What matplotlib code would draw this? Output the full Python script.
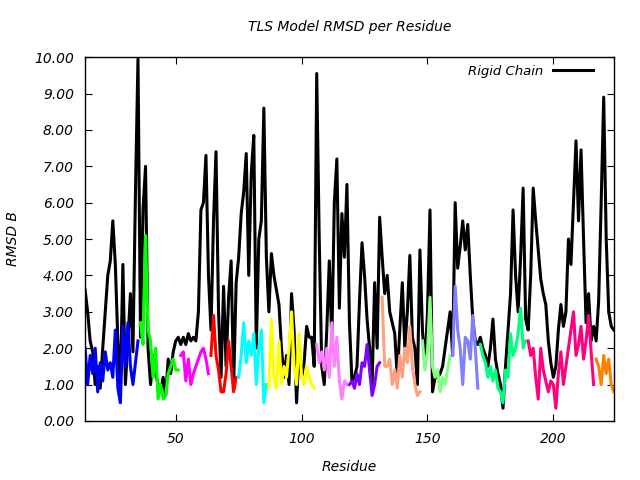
import matplotlib
matplotlib.use("Agg")
import matplotlib.pyplot as plt
import numpy as np

# rigid chain RMSD, residues 14..224
rigid_start = 14
rigid_rmsd = [
    3.6, 3.0, 2.2, 1.9, 1.0, 1.5, 0.9, 2.0, 3.0, 4.0,
    4.4, 5.5, 4.3, 2.2, 0.9, 4.3, 1.0, 2.2, 3.5, 1.9,
    6.3, 9.95, 2.3, 5.8, 7.0, 2.0, 1.0, 1.8, 1.3, 1.0,
    0.8, 1.2, 0.7, 1.7, 1.3, 1.9, 2.2, 2.3, 2.1, 2.3,
    2.1, 2.4, 2.2, 2.3, 2.2, 3.0, 5.8, 6.0, 7.3, 4.0,
    2.5, 5.5, 7.4, 3.0, 1.2, 3.7, 1.5, 3.4, 4.4, 1.0,
    3.8, 4.5, 5.7, 6.3, 7.35, 4.0, 6.8, 7.85, 2.0, 5.0,
    5.5, 8.6, 4.5, 3.0, 4.6, 4.0, 3.6, 3.2, 2.0, 1.2,
    1.8, 1.0, 3.5, 2.5, 0.5, 2.0, 1.2, 1.6, 2.6, 2.3,
    2.3, 1.5, 9.55, 5.0, 1.5, 1.0, 2.5, 4.4, 2.2, 6.0,
    7.2, 3.1, 5.7, 4.5, 6.5, 2.7, 1.1, 1.2, 1.5, 3.3,
    4.9, 4.0, 2.8, 2.0, 1.0, 3.8, 2.0, 5.6, 4.5, 3.5,
    4.0, 3.0, 2.7, 2.4, 1.2, 2.5, 3.8, 2.0, 3.0, 4.55,
    2.3, 2.0, 1.0, 4.7, 2.5, 1.5, 3.0, 5.8, 0.8, 1.2,
    1.2, 1.3, 1.5, 2.0, 2.5, 3.0, 1.8, 6.0, 4.2, 4.8,
    5.5, 4.7, 5.4, 4.0, 2.8, 2.2, 2.1, 2.3, 2.0, 1.8,
    1.5, 2.0, 2.8, 1.7, 1.3, 1.0, 0.35, 1.5, 2.5, 3.5,
    5.8, 4.0, 3.0, 4.5, 6.4, 2.8, 2.5, 4.0, 6.4, 5.5,
    4.7, 3.9, 3.5, 3.2, 2.2, 1.6, 1.2, 1.5, 2.5, 3.2,
    2.6, 3.0, 5.0, 4.3, 6.0, 7.7, 5.5, 7.45, 5.0, 2.7,
    3.5, 2.2, 2.6, 2.2, 3.3, 6.0, 8.9, 5.0, 3.0, 2.6,
    2.5,
]

# TLS groups: first residue, colour, rmsd values
group_starts = [14, 36, 52, 64, 75, 87, 106, 119, 132, 148, 160, 171, 190, 217]
group_colors = ["#0000ff", "#00ff00", "#ff00ff", "#ff0000", "#00ffff",
                "#ffff00", "#ff80ff", "#8000ff", "#ffa080", "#80ff80",
                "#8080ff", "#00ff80", "#ff0080", "#ff8000"]
group_rmsd = [
    [2.0, 1.0, 1.8, 1.3, 2.0, 0.8, 1.6, 1.1, 1.9, 1.4, 1.6,
     1.2, 2.5, 0.9, 0.5, 2.6, 1.5, 2.7, 1.5, 1.0, 1.6, 2.2],
    [2.7, 2.1, 5.1, 2.5, 2.2, 1.2, 2.0, 0.6, 1.0, 0.6, 0.7, 1.3, 1.5, 1.7, 1.4, 1.4],
    [1.8, 1.9, 1.1, 1.7, 1.0, 1.3, 1.5, 1.7, 1.9, 2.0, 1.7, 1.3],
    [1.8, 2.9, 1.8, 1.4, 0.8, 0.8, 1.3, 2.2, 1.5, 0.8, 1.2],
    [1.2, 1.8, 2.7, 1.6, 2.2, 1.8, 2.4, 1.0, 2.0, 2.5, 0.5, 1.0],
    [0.9, 2.8, 1.2, 0.9, 2.2, 1.0, 1.5, 1.2, 2.0, 3.0, 1.5, 1.0,
     2.4, 1.2, 1.0, 1.5, 1.2, 1.0, 0.9],
    [2.1, 1.6, 1.9, 1.4, 2.0, 1.2, 2.7, 1.5, 2.3, 1.1, 0.6, 1.1, 1.0],
    [1.0, 1.1, 0.9, 1.3, 1.0, 1.6, 1.5, 2.1, 1.4, 0.7, 1.0, 1.5, 1.6],
    [3.4, 1.5, 1.5, 1.7, 1.0, 1.4, 0.9, 1.8, 1.2, 2.0, 1.6, 2.6, 1.5, 1.0, 0.7, 0.8],
    [2.2, 1.4, 1.9, 3.4, 1.5, 1.2, 1.4, 0.8, 1.2, 1.0, 1.4, 1.8],
    [1.8, 3.7, 2.5, 2.0, 1.0, 2.3, 2.2, 1.7, 2.9, 2.0, 0.9],
    [2.1, 1.8, 1.6, 1.2, 1.5, 1.1, 1.4, 0.9, 0.8, 0.5, 1.4, 1.2,
     2.4, 1.8, 2.0, 2.4, 3.1, 2.0, 2.2],
    [2.2, 1.8, 2.0, 1.2, 0.6, 2.0, 1.4, 1.1, 0.8, 1.1, 1.0, 0.35, 1.3, 1.9,
     1.0, 1.5, 2.0, 2.5, 3.0, 1.8, 2.1, 2.6, 1.7, 2.2, 2.9, 1.9, 1.0],
    [1.7, 1.5, 1.0, 1.8, 1.3, 1.7, 1.0, 0.8],
]

yticks = np.arange(0, 11, 1)
xticks = [50, 100, 150, 200]

plt.rcParams['font.family'] = ['DejaVu Sans']
fig = plt.figure(figsize=(6.4, 4.8), dpi=100)
ax = fig.add_axes([0.133, 0.123, 0.826, 0.758])

res = np.arange(rigid_start, rigid_start + len(rigid_rmsd))
ax.plot(res, rigid_rmsd, color="black", lw=2.2, label="Rigid Chain")

for start, color, vals in zip(group_starts, group_colors, group_rmsd):
    r = np.arange(start, start + len(vals))
    ax.plot(r, vals, color=color, lw=2.2)

ax.set_xlim(14, 224)
ax.set_ylim(0, 10)
ax.set_xticks(xticks)
ax.set_yticks(yticks)
ax.set_yticklabels(["%.2f" % v for v in yticks])
ax.tick_params(direction="in", top=True, right=True, length=5,
               labelsize=10, pad=8)
for lab in ax.get_xticklabels() + ax.get_yticklabels():
    lab.set_style("italic")
for s in ax.spines.values():
    s.set_linewidth(1.0)

ax.set_title("TLS Model RMSD per Residue", fontsize=10, style="italic", pad=19)
ax.set_xlabel("Residue", fontsize=10, style="italic", labelpad=10)
ax.set_ylabel("RMSD B", fontsize=10, style="italic", labelpad=10)

leg = ax.legend(loc="upper right", bbox_to_anchor=(0.983, 1.012),
                frameon=False, fontsize=9.5, handlelength=3.0,
                markerfirst=False)
for t in leg.get_texts():
    t.set_style("italic")

fig.savefig("out.png", dpi=100)
